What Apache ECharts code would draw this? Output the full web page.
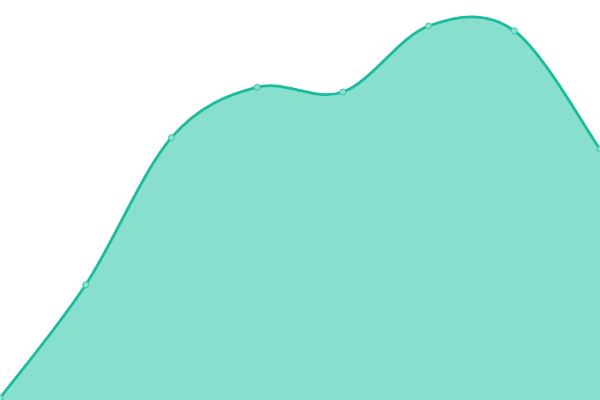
<!DOCTYPE html>
<html>
<head>
  <meta charset="utf-8">
  <script src="https://cdn.jsdelivr.net/npm/echarts@6/dist/echarts.min.js"></script>
  <style>
  html,body{margin:0;padding:0;background:#fff}
  #main{width:600px;height:400px}
  </style>
</head>
<body>
  <div id="main"></div>
  <script type="text/javascript">
      // categories and values
      var categories = ['1', '2', '3', '4', '5', '6', '7', '8'];
      var values = [0.5, 28.8, 65.6, 78.2, 77, 93.5, 92.3, 62.7];

      // cardinal (catmull-rom) curve through the pixel points
      function smoothPath(pts) {
          var n = pts.length;
          var k = 1 / 6;
          var d = 'M' + pts[0][0] + ' ' + pts[0][1];
          for (var i = 0; i < n - 1; i++) {
              var p0 = pts[i > 0 ? i - 1 : 0];
              var p1 = pts[i];
              var p2 = pts[i + 1];
              var p3 = pts[i + 2 < n ? i + 2 : n - 1];
              var c1x = p1[0] + (p2[0] - p0[0]) * k;
              var c1y = p1[1] + (p2[1] - p0[1]) * k;
              var c2x = p2[0] - (p3[0] - p1[0]) * k;
              var c2y = p2[1] - (p3[1] - p1[1]) * k;
              d += ' C' + c1x + ' ' + c1y + ' ' + c2x + ' ' + c2y + ' ' + p2[0] + ' ' + p2[1];
          }
          return d;
      }

      function renderCurve(params, api) {
          if (params.dataIndex !== 0) return;
          var pts = [];
          for (var i = 0; i < values.length; i++) {
              pts.push(api.coord([i, values[i]]));
          }
          var base = api.coord([0, 0])[1];
          var line = smoothPath(pts);
          var area = line + ' L' + pts[pts.length - 1][0] + ' ' + base +
              ' L' + pts[0][0] + ' ' + base + ' Z';
          return {
              type: 'group',
              children: [{
                  type: 'path',
                  shape: { pathData: area },
                  style: { fill: '#88dfce', stroke: null }
              }, {
                  type: 'path',
                  shape: { pathData: line },
                  style: { fill: null, stroke: '#1abc9c', lineWidth: 2.8 }
              }]
          };
      }

      var myChart = echarts.init(document.getElementById('main'));
      var option = {
          animation: false,
          grid: {
              left: 0,
              right: 0,
              top: 0,
              bottom: 0
          },
          xAxis: {
              type: 'category',
              boundaryGap: false,
              data: categories,
              show: false
          },
          yAxis: {
              type: 'value',
              min: 0,
              max: 100,
              show: false
          },
          series: [{
              type: 'custom',
              data: values,
              renderItem: renderCurve,
              z: 1
          }, {
              type: 'line',
              data: values,
              symbol: 'circle',
              symbolSize: 6,
              z: 3,
              itemStyle: {
                  color: '#8ce0cf',
                  borderColor: '#3cc6a8',
                  borderWidth: 1
              },
              lineStyle: {
                  opacity: 0
              }
          }]
      };
      myChart.setOption(option);
  </script>
</body>
</html>
